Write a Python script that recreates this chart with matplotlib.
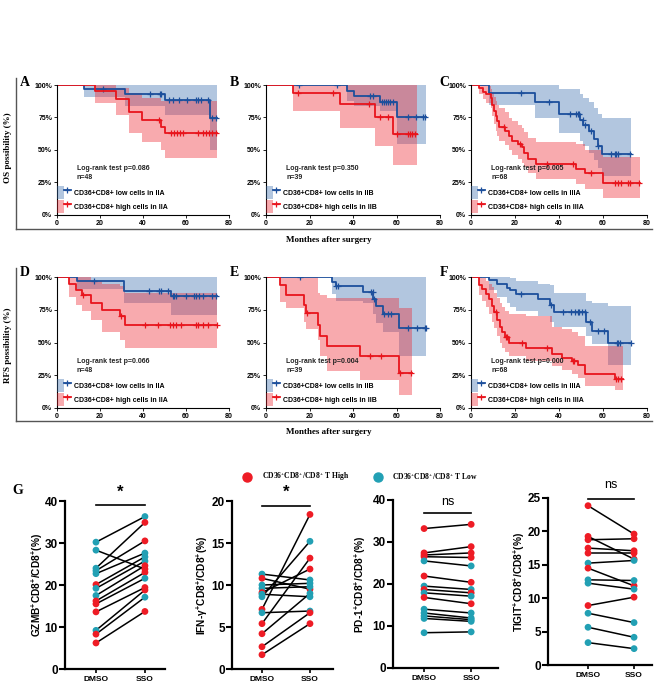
import numpy as np
import matplotlib
matplotlib.use('Agg')
import matplotlib.pyplot as plt
from matplotlib.lines import Line2D
from matplotlib.patches import Patch
from matplotlib.legend_handler import HandlerTuple

plt.rcParams['font.family'] = ['Liberation Sans', 'DejaVu Sans']
plt.rcParams['mathtext.default'] = 'regular'

# ---------------- Kaplan-Meier data (time in months, survival in %) ----------------
# Panel A (OS, IIA)
A_low_t = [0, 12.6, 31.5, 50.3, 71.2]
A_low_s = [100, 97.2, 93.1, 88.5, 74.4]
A_low_lo = [100, 91, 84, 77, 50]
A_low_hi = [100, 100, 100, 100, 100]
A_low_end = 74.6
A_low_cens = [21.5, 43.4, 47.7, 48.3, 52.3, 53.8, 56.9, 60.5, 64.6, 65.7, 66.9, 70, 72.3, 73.8]
A_high_t = [0, 17.7, 27.4, 33.5, 39.7, 48.5, 50.3]
A_high_s = [100, 95.4, 89.2, 79, 73.1, 68, 62.8]
A_high_lo = [100, 85.9, 76.9, 62.8, 56.4, 50, 43.6]
A_high_hi = [100, 100, 98, 94, 90, 88, 88]
A_high_end = 74.6
A_high_cens = [47.4, 53, 54.2, 55.8, 57.4, 58.5, 65.4, 68, 69.5, 70.8, 72, 73.8]

# Panel B (OS, IIB)
B_low_t = [0, 37.2, 40.3, 52.3, 60.3]
B_low_s = [100, 95.4, 91.6, 87, 75]
B_low_lo = [100, 87.8, 84, 80, 55]
B_low_hi = [100, 100, 100, 100, 100]
B_low_end = 73.4
B_low_cens = [15, 32.6, 48, 49, 53.4, 54.2, 55.2, 56.2, 57.2, 58.2, 65.2, 69, 72.3, 72.9]
B_high_t = [0, 12.3, 34.2, 50, 58.3]
B_high_s = [100, 93.6, 85.2, 75, 62.3]
B_high_lo = [100, 80.2, 66.7, 53.4, 38.2]
B_high_hi = [100, 100, 100, 100, 100]
B_high_end = 69.5
B_high_cens = [14.5, 31, 47.2, 52.3, 56, 60, 65.2, 66.2, 67.2, 68.3]

# Panel C (OS, IIIA)
C_low_t = [0, 8.1, 29, 40.2, 49.5, 51, 53.5, 56, 57.5, 59.5]
C_low_s = [100, 93.7, 87.3, 77.7, 73.4, 69.6, 64.6, 58.7, 53.2, 46.8]
C_low_lo = [100, 85, 75, 63, 57, 53, 48, 42, 36, 30]
C_low_hi = [100, 100, 100, 97, 93, 90, 87, 82, 78, 75]
C_low_end = 72.7
C_low_cens = [22.6, 35.3, 45.2, 47.8, 48.5, 49.3, 50.8, 51.6, 54.7, 57.7, 63.8, 65.3, 66.1, 66.9, 72.2]
C_high_t = [0, 3.5, 5.5, 7, 9, 9.6, 10.4, 11.2, 11.9, 12.7, 15.5, 17.3, 18.8, 21.4, 23.4, 24.1, 26, 29.5, 47.8, 51.6, 60]
C_high_s = [100, 97.5, 95, 93, 90, 85, 80, 76, 72, 68, 65, 61, 57, 54.5, 52, 48, 43, 39.2, 35.5, 32, 24.5]
C_high_lo = [100, 93, 89, 86, 82, 76, 70, 65, 61, 57, 54, 50, 46, 43, 40, 37, 32, 28, 24, 20, 13]
C_high_hi = [100, 100, 100, 99, 97, 94, 91, 88, 85, 82, 79, 75, 72, 69, 67, 64, 59, 56, 55, 50, 45]
C_high_end = 76.8
C_high_cens = [15, 22.3, 34.5, 46.3, 54.7, 65.3, 66.9, 68.4, 71.5, 72.2, 76.3]

# Panel D (RFS, IIA)
D_low_t = [0, 9.5, 31, 53]
D_low_s = [100, 96.7, 89.4, 85.3]
D_low_lo = [100, 91, 80, 71]
D_low_hi = [100, 100, 100, 100]
D_low_end = 74.3
D_low_cens = [17, 43, 47.4, 48.5, 51.5, 53.8, 54.6, 55.4, 60, 63.8, 64.6, 66.2, 68, 72.3, 73.8]
D_high_t = [0, 5.8, 8.9, 11.5, 15.8, 20.8, 29.5, 31.5]
D_high_s = [100, 95, 90, 86, 80.3, 74.7, 70.5, 63.5]
D_high_lo = [100, 85, 79, 74, 67, 58, 52, 45.5]
D_high_hi = [100, 100, 100, 100, 97, 95, 93, 88]
D_high_end = 74.3
D_high_cens = [12.3, 29.8, 40.8, 47, 52.6, 53.8, 55.4, 57.7, 64.6, 65.8, 67.7, 70, 74.2]

# Panel E (RFS, IIB)
E_low_t = [0, 30.2, 32, 44.8, 49.4, 50.6, 54, 61.2]
E_low_s = [100, 96, 92.8, 88.5, 83.3, 78.2, 71.5, 60.8]
E_low_lo = [100, 87, 82, 80, 72, 65, 58, 40]
E_low_hi = [100, 100, 100, 100, 100, 100, 100, 100]
E_low_end = 73.6
E_low_cens = [15.8, 32.3, 33, 48.3, 49, 49.8, 54.4, 55.9, 57.4, 65.5, 69.5, 73, 73.6]
E_high_t = [0, 6.4, 9, 17.3, 18.5, 24.1, 24.8, 27.9, 43, 61.2]
E_high_s = [100, 93.6, 86.5, 78.7, 72.3, 63.3, 55, 47.5, 40, 26.8]
E_high_lo = [100, 81, 76, 66, 60, 52, 40, 28, 21, 9.6]
E_high_hi = [100, 100, 100, 100, 100, 88, 86, 84, 84, 76.7]
E_high_end = 67
E_high_cens = [19, 47.9, 52.9, 61.8, 66.5]

# Panel F (RFS, IIIA)
F_low_t = [0, 8, 12, 16.5, 17.6, 20.6, 30.5, 36, 37.6, 52.2, 55, 62.4]
F_low_s = [100, 97.5, 95, 91.8, 89.8, 86.8, 83.5, 78.5, 73.5, 65.5, 58.8, 50]
F_low_lo = [100, 90, 85, 80, 77, 74, 70, 66, 61.5, 55, 48.5, 32.8]
F_low_hi = [100, 100, 100, 100, 99, 97, 95, 94, 88, 82, 80.5, 77.5]
F_low_end = 72.9
F_low_cens = [22.5, 36.5, 41.7, 45.6, 47.4, 48.6, 49.3, 50.4, 51.6, 54.1, 57.6, 60.6, 66.2, 66.9, 67.7, 72.6]
F_high_t = [0, 3.8, 5, 6.8, 8, 9.5, 10.5, 12, 13, 14.3, 15.5, 17.3, 25.1, 36.8, 41.4, 45.9, 48.6, 51.9, 65.4]
F_high_s = [100, 94, 91, 87, 83, 78, 73, 67, 62, 58, 54.3, 50, 46, 41.4, 38.4, 35.9, 32.8, 25.8, 22]
F_high_lo = [100, 86, 82, 77, 72, 66, 61, 55, 50, 46, 43, 40, 36, 32, 29, 26, 23, 17, 14]
F_high_hi = [100, 100, 99, 97, 95, 92, 88, 84, 80, 77, 74, 72, 70, 62, 60, 58, 55, 47, 47]
F_high_end = 68.9
F_high_cens = [11.3, 15.8, 16.5, 23, 34.6, 46.2, 47, 65.8, 66.9, 68.4]

panel_letters = ['A', 'B', 'C', 'D', 'E', 'F']
panel_p = ['0.086', '0.350', '0.005', '0.066', '0.004', '0.000']
panel_n = ['48', '39', '68', '48', '39', '68']
panel_stage = ['IIA', 'IIB', 'IIIA', 'IIA', 'IIB', 'IIIA']
km_xticks = [0, 20, 40, 60, 80]
km_yticks = [0, 25, 50, 75, 100]
km_yticklabels = ['0%', '25%', '50%', '75%', '100%']

# ---------------- Paired data (panel G) ----------------
g_xlabels = ['DMSO', 'SSO']
gzmb_dmso = [30.2, 28.3, 24.0, 23.4, 22.7, 20.1, 19.2, 17.5, 16.2, 15.5, 13.6, 9.2, 8.3, 6.2]
gzmb_sso = [36.3, 23.8, 34.9, 30.5, 27.6, 26.7, 25.7, 24.6, 23.0, 21.6, 19.4, 18.8, 17.1, 13.7]
gzmb_grp_dmso = ['L', 'L', 'L', 'L', 'L', 'H', 'L', 'L', 'H', 'H', 'H', 'L', 'H', 'H']
gzmb_grp_sso = ['L', 'H', 'H', 'H', 'L', 'L', 'L', 'H', 'H', 'L', 'H', 'H', 'L', 'H']

ifng_dmso = [11.3, 10.8, 10.0, 9.6, 9.1, 8.9, 8.6, 7.1, 6.7, 5.4, 4.2, 2.65, 1.7]
ifng_sso = [10.6, 9.5, 10.2, 9.8, 11.9, 8.6, 15.2, 18.4, 6.9, 13.2, 9.0, 6.7, 5.4]
ifng_grp_dmso = ['L', 'H', 'L', 'L', 'H', 'L', 'L', 'H', 'L', 'H', 'H', 'H', 'H']
ifng_grp_sso = ['L', 'H', 'L', 'L', 'H', 'L', 'L', 'H', 'L', 'H', 'L', 'H', 'H']

pd1_dmso = [33.2, 27.4, 26.9, 26.5, 25.5, 21.9, 19.5, 18.7, 17.9, 16.8, 14.0, 13.1, 12.4, 11.8, 8.4]
pd1_sso = [34.2, 28.9, 27.4, 26.3, 24.3, 20.4, 18.7, 17.9, 17.1, 15.3, 13.1, 11.9, 11.5, 11.1, 8.6]
pd1_grp_dmso = ['H', 'H', 'H', 'H', 'L', 'H', 'L', 'H', 'L', 'H', 'L', 'L', 'L', 'L', 'L']
pd1_grp_sso = ['H', 'H', 'H', 'H', 'L', 'H', 'L', 'H', 'L', 'H', 'L', 'L', 'L', 'L', 'L']

tigit_dmso = [23.85, 19.25, 18.75, 17.5, 16.75, 15.25, 14.5, 12.75, 12.25, 8.9, 7.75, 5.65, 3.35]
tigit_sso = [19.6, 15.85, 18.9, 17.1, 16.75, 15.65, 11.85, 12.65, 11.35, 10.15, 6.35, 4.15, 2.45]
tigit_grp_dmso = ['H', 'H', 'H', 'H', 'H', 'L', 'H', 'L', 'L', 'H', 'L', 'L', 'L']
tigit_grp_sso = ['H', 'H', 'H', 'H', 'H', 'L', 'H', 'L', 'L', 'H', 'L', 'L', 'L']

g_sig = ['*', '*', 'ns', 'ns']

# ---------------- styling ----------------
W, H = 669, 686
fig = plt.figure(figsize=(W / 100, H / 100), dpi=100)

BLUE = '#1C4F9C'
REDL = '#E8141C'
BLUE_F = '#3F72B0'
RED_F = '#EE2B36'
G_RED = '#EE1C25'
G_TEAL = '#22A0B4'
SERIF = 'Liberation Serif'


def fax(x0, y0, x1, y1):
    return fig.add_axes([x0 / W, 1 - y1 / H, (x1 - x0) / W, (y1 - y0) / H])


def draw_km(ax, t, s, lo, hi, end, cens, color, fc, alpha, layer):
    tt = np.r_[t, end]
    if layer == 'fill':
        ax.fill_between(tt, np.r_[lo, lo[-1]], np.r_[hi, hi[-1]], step='post',
                        color=fc, alpha=alpha, lw=0)
    else:
        ax.step(tt, np.r_[s, s[-1]], where='post', color=color, lw=1.3)
        c = np.asarray(cens)
        idx = np.searchsorted(np.asarray(t), c, side='right') - 1
        ax.plot(c, np.asarray(s)[idx], ls='none', marker='+', ms=4.5, mew=0.9, color=color)


km_sets = {
    'A': (A_low_t, A_low_s, A_low_lo, A_low_hi, A_low_end, A_low_cens,
          A_high_t, A_high_s, A_high_lo, A_high_hi, A_high_end, A_high_cens),
    'B': (B_low_t, B_low_s, B_low_lo, B_low_hi, B_low_end, B_low_cens,
          B_high_t, B_high_s, B_high_lo, B_high_hi, B_high_end, B_high_cens),
    'C': (C_low_t, C_low_s, C_low_lo, C_low_hi, C_low_end, C_low_cens,
          C_high_t, C_high_s, C_high_lo, C_high_hi, C_high_end, C_high_cens),
    'D': (D_low_t, D_low_s, D_low_lo, D_low_hi, D_low_end, D_low_cens,
          D_high_t, D_high_s, D_high_lo, D_high_hi, D_high_end, D_high_cens),
    'E': (E_low_t, E_low_s, E_low_lo, E_low_hi, E_low_end, E_low_cens,
          E_high_t, E_high_s, E_high_lo, E_high_hi, E_high_end, E_high_cens),
    'F': (F_low_t, F_low_s, F_low_lo, F_low_hi, F_low_end, F_low_cens,
          F_high_t, F_high_s, F_high_lo, F_high_hi, F_high_end, F_high_cens),
}

col_x = [(57, 229), (266, 440), (471, 647)]
row_y = [(85, 215), (277, 408)]
letter_pos = [(25, 83), (234, 83), (444, 83), (25, 273), (234, 273), (444, 273)]

for i, L in enumerate(panel_letters):
    r, c = divmod(i, 3)
    ax = fax(col_x[c][0], row_y[r][0], col_x[c][1], row_y[r][1])
    d = km_sets[L]
    draw_km(ax, *d[0:6], BLUE, BLUE_F, 0.40, 'fill')
    draw_km(ax, *d[6:12], REDL, RED_F, 0.40, 'fill')
    draw_km(ax, *d[0:6], BLUE, BLUE_F, 0.40, 'line')
    draw_km(ax, *d[6:12], REDL, RED_F, 0.40, 'line')
    ax.set_xlim(0, 80)
    ax.set_ylim(0, 100)
    ax.set_xticks(km_xticks)
    ax.set_yticks(km_yticks)
    ax.set_yticklabels(km_yticklabels)
    for sp in ['top', 'right']:
        ax.spines[sp].set_visible(False)
    for sp in ['left', 'bottom']:
        ax.spines[sp].set_linewidth(0.8)
    ax.tick_params(labelsize=5, length=2, width=0.6, pad=1.5)
    for lab in ax.get_xticklabels() + ax.get_yticklabels():
        lab.set_fontweight('bold')
    ax.patch.set_alpha(0)
    ax.text(0.115, 0.355, 'Log-rank test p=' + panel_p[i], fontsize=5, transform=ax.transAxes,
            va='center', ha='left', fontweight='bold', color='#222222')
    ax.text(0.115, 0.285, 'n=' + panel_n[i], fontsize=5, transform=ax.transAxes,
            va='center', ha='left', fontweight='bold', color='#222222')
    hb = (Patch(facecolor=BLUE_F, alpha=0.4, lw=0),
          Line2D([], [], color=BLUE, lw=1.3, marker='+', ms=4.5, mew=0.9))
    hr = (Patch(facecolor=RED_F, alpha=0.4, lw=0),
          Line2D([], [], color=REDL, lw=1.3, marker='+', ms=4.5, mew=0.9))
    leg = ax.legend([hb, hr], ['CD36+CD8+ low cells in ' + panel_stage[i],
                               'CD36+CD8+ high cells in ' + panel_stage[i]],
                    handler_map={tuple: HandlerTuple(ndivide=None)},
                    loc='lower left', bbox_to_anchor=(0.0, 0.012), frameon=False,
                    prop={'size': 5, 'weight': 'bold'}, handlelength=2.0, handleheight=2.6,
                    labelspacing=0.08, handletextpad=0.45, borderpad=0.0, borderaxespad=0.0)
    fig.text(letter_pos[i][0] / W, 1 - letter_pos[i][1] / H, L, fontsize=10, fontweight='bold',
             family=SERIF, ha='center', va='center')

# frames and shared labels
for (ytop, ybot, ymid, lab, xlab_y) in [(78, 229, 148, 'OS possibility (%)', 240),
                                       (268, 421, 345, 'RFS possibility (%)', 432)]:
    fig.add_artist(Line2D([16 / W, 16 / W], [1 - ytop / H, 1 - ybot / H], color='#555555', lw=1.0,
                          transform=fig.transFigure))
    fig.add_artist(Line2D([16 / W, 652 / W], [1 - ybot / H, 1 - ybot / H], color='#555555', lw=1.0,
                          transform=fig.transFigure))
    fig.text(8 / W, 1 - ymid / H, lab, rotation=90, fontsize=6.5, fontweight='bold', family=SERIF,
             ha='center', va='center')
    fig.text(329 / W, 1 - xlab_y / H, 'Monthes after surgery', fontsize=6.5, fontweight='bold',
             family=SERIF, ha='center', va='center')

# ---------------- panel G ----------------
g_boxes = [(65, 501, 165, 669), (232, 501, 333, 669), (393, 500, 498, 668), (548, 498, 652, 665)]
g_xlims = [(-0.633, 1.41), (-0.625, 1.48), (-0.66, 1.57), (-0.87, 1.39)]
g_ylims = [40, 20, 40, 25]
g_ysteps = [10, 5, 10, 5]
g_ylabels = ['GZMB$^{+}$CD8$^{+}$/CD8$^{+}$(%)', 'IFN-γ$^{+}$CD8$^{+}$/CD8$^{+}$(%)',
             'PD-1$^{+}$CD8$^{+}$/CD8$^{+}$(%)', 'TIGIT$^{+}$CD8$^{+}$/CD8$^{+}$(%)']
g_labelx = [-0.20, -0.22, -0.235, -0.20]
g_sig_line = [39.0, 19.4, 36.9, 24.85]
g_sig_text = [40.3, 20.2, 38.2, 26.0]
g_data = [(gzmb_dmso, gzmb_sso, gzmb_grp_dmso, gzmb_grp_sso),
          (ifng_dmso, ifng_sso, ifng_grp_dmso, ifng_grp_sso),
          (pd1_dmso, pd1_sso, pd1_grp_dmso, pd1_grp_sso),
          (tigit_dmso, tigit_sso, tigit_grp_dmso, tigit_grp_sso)]

for k in range(4):
    x0, y0, x1, y1 = g_boxes[k]
    ax = fax(x0, y0, x1, y1)
    dm, ss, gd, gs = g_data[k]
    for a, b in zip(dm, ss):
        ax.plot([0, 1], [a, b], color='black', lw=1.1, zorder=2)
    ax.scatter(np.zeros(len(dm)), dm, c=[G_RED if g == 'H' else G_TEAL for g in gd],
               s=24, zorder=3, linewidths=0, clip_on=False)
    ax.scatter(np.ones(len(ss)), ss, c=[G_RED if g == 'H' else G_TEAL for g in gs],
               s=24, zorder=3, linewidths=0, clip_on=False)
    ax.set_xlim(*g_xlims[k])
    ax.set_ylim(0, g_ylims[k])
    ax.set_yticks(np.arange(0, g_ylims[k] + 0.1, g_ysteps[k]))
    ax.set_xticks([0, 1])
    ax.set_xticklabels(g_xlabels)
    for sp in ['top', 'right']:
        ax.spines[sp].set_visible(False)
    for sp in ['left', 'bottom']:
        ax.spines[sp].set_linewidth(1.6)
    ax.tick_params(axis='y', labelsize=8.5, length=4, width=1.5, pad=1.2)
    ax.tick_params(axis='x', labelsize=6, length=3, width=1.2, pad=2)
    for lab in ax.get_xticklabels() + ax.get_yticklabels():
        lab.set_fontweight('bold')
    ax.set_ylabel(g_ylabels[k], fontsize=7.3, fontweight='bold')
    ax.yaxis.set_label_coords(g_labelx[k], 0.5)
    ax.plot([0, 1], [g_sig_line[k]] * 2, color='black', lw=1.2, clip_on=False)
    if g_sig[k] == '*':
        ax.text(0.5, g_sig_text[k], '*', ha='center', va='bottom', fontsize=12, fontweight='bold')
    else:
        ax.text(0.5, g_sig_text[k], 'ns', ha='center', va='bottom', fontsize=9)
    ax.patch.set_alpha(0)

fig.text(18 / W, 1 - 490 / H, 'G', fontsize=10, fontweight='bold', family=SERIF, ha='center', va='center')
fig.add_artist(Line2D([247 / W], [1 - 477 / H], marker='o', ms=6.5, color=G_RED, ls='none',
                      transform=fig.transFigure))
fig.text(262 / W, 1 - 477 / H, 'CD36$^{+}$CD8$^{+}$/CD8$^{+}$ T High', fontsize=5.5, fontweight='bold',
         family=SERIF, ha='left', va='center')
fig.add_artist(Line2D([378 / W], [1 - 477 / H], marker='o', ms=6.5, color=G_TEAL, ls='none',
                      transform=fig.transFigure))
fig.text(392 / W, 1 - 477 / H, 'CD36$^{+}$CD8$^{+}$/CD8$^{+}$ T Low', fontsize=5.5, fontweight='bold',
         family=SERIF, ha='left', va='center')

fig.savefig('out.png', dpi=100)
